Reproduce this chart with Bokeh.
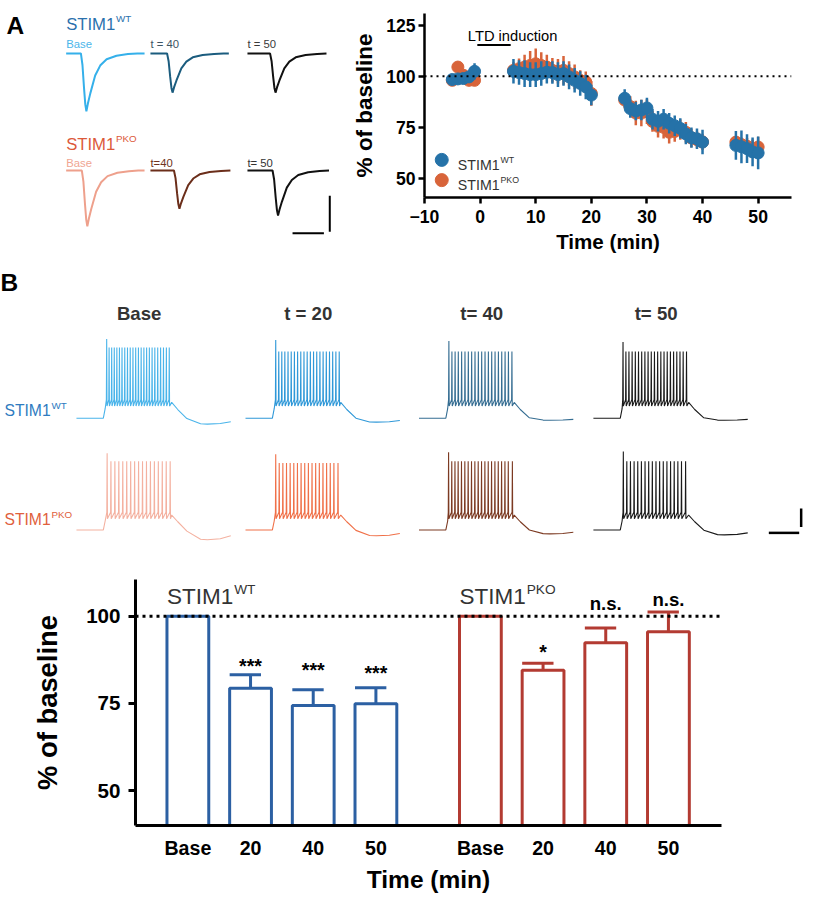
from bokeh.plotting import figure
from bokeh.layouts import column, row
from bokeh.models import Range1d, FixedTicker, Span
from bokeh.core.properties import value
from bokeh.embed import file_html
from bokeh.resources import INLINE

S = 0.98
FONT = "Liberation Sans"

# ---------------- DATA: LTD time course (panel A, right) ----------------
time_min = [-5, -4, -3, -2, -1,
            6, 7, 8, 9, 10, 11, 12, 13, 14, 15, 16, 17, 18, 19, 20,
            26, 27, 28, 29, 30, 31, 32, 33, 34, 35, 36, 37, 38, 39, 40,
            46, 47, 48, 49, 50]
wt_mean = [98.4, 98.7, 98.9, 99.7, 102.4,
           102.4, 101.8, 101.3, 100.8, 100.8, 101.3, 102.0, 101.8, 100.8, 101.3, 99.7, 98.0, 96.5, 94.8, 90.8,
           89.2, 84.2, 83.0, 83.5, 84.5, 79.0, 78.0, 79.0, 77.0, 75.8, 74.5, 71.8, 70.0, 69.4, 67.8,
           66.2, 65.5, 64.6, 63.0, 62.5]
wt_sem = [1.5, 1.5, 2.0, 2.5, 4.0,
          6.0, 6.0, 6.5, 6.0, 6.0, 6.0, 5.5, 5.5, 6.0, 6.0, 6.0, 6.0, 6.0, 6.0, 5.0,
          4.5, 4.5, 4.5, 5.0, 5.0, 5.0, 5.0, 5.0, 5.0, 5.0, 5.0, 5.0, 5.0, 5.0, 6.0,
          7.0, 8.0, 7.0, 7.0, 8.0]
pko_mean = [98.0, 104.5, 100.5, 98.0, 98.0,
            102.9, 103.7, 104.5, 105.3, 106.1, 105.3, 104.5, 102.9, 102.4, 102.9, 101.3, 99.7, 98.0, 97.3, 91.6,
            88.4, 85.2, 82.0, 82.0, 82.7, 77.9, 75.5, 75.0, 72.6, 73.0, 73.9, 72.6, 69.8, 69.0, 67.9,
            67.8, 66.6, 65.8, 64.6, 65.4]
pko_sem = [1.0, 1.5, 2.0, 1.5, 2.0,
           4.0, 5.0, 6.0, 7.0, 7.5, 6.5, 6.0, 6.0, 6.0, 7.0, 6.0, 6.0, 5.0, 5.0, 6.0,
           4.0, 5.0, 6.0, 6.5, 6.0, 5.0, 5.5, 5.5, 5.5, 5.0, 5.0, 5.0, 4.5, 4.0, 4.0,
           3.0, 3.5, 4.0, 4.5, 5.0]
ltd_induction = [-0.5, 5.5]

# ---------------- DATA: bar chart (panel B, bottom) ----------------
bar_labels = ["Base", "20", "40", "50"]
wt_bar = [100, 79.3, 74.4, 74.9]
wt_bar_sem = [0, 3.9, 4.5, 4.6]
pko_bar = [100, 84.5, 92.4, 95.5]
pko_bar_sem = [0, 2.0, 4.2, 5.7]
wt_sig = ["", "***", "***", "***"]
pko_sig = ["", "*", "n.s.", "n.s."]

# ---------------- DATA: example EPSCs (panel A, left) ----------------
epsc_t = [0, 1, 2, 2.8, 3.5, 4.5, 6.0, 9.1, 12.3, 16.4, 22.7, 30, 36]      # ms after onset
epsc_shape = [0, -0.2, -0.6, -0.88, -1.0, -0.86, -0.69, -0.38, -0.21, -0.10, -0.04, -0.012, 0]
wt_epsc_names = ["Base", "t = 40", "t = 50"]
pko_epsc_names = ["Base", "t=40", "t= 50"]
wt_epsc_amp = [161, 109, 109]       # pA
pko_epsc_amp = [155, 106, 125]
wt_epsc_onset = [9.4, 10.6, 14.4]   # ms
pko_epsc_onset = [10.0, 15.0, 16.0]
epsc_window = 50                     # ms
epsc_scale = (20, 100)               # ms, pA

# ---------------- DATA: example firing (panel B, top) ----------------
ap_names = ["Base", "t = 20", "t= 40", "t= 50"]
ap_rest = -70.0
ap_step = (177, 627)
ap_end = 1016
wt_spikes = [
    [22, 38, 55, 72, 89, 106, 123, 141, 159, 177, 195, 213, 231, 249, 267, 285, 303, 321, 339, 358, 377, 396, 415, 434],
    [22, 42, 62, 82, 103, 124, 145, 166, 187, 208, 229, 250, 271, 292, 313, 334, 355, 376, 397, 418, 440],
    [20, 40, 61, 82, 104, 126, 148, 170, 192, 214, 236, 258, 280, 302, 324, 346, 368, 390, 412, 435],
    [18, 37, 57, 78, 99, 120, 141, 162, 183, 204, 225, 246, 267, 288, 309, 330, 351, 372, 393, 414, 436],
]
pko_spikes = [
    [25, 50, 76, 102, 128, 154, 180, 206, 232, 258, 284, 310, 336, 362, 388, 414, 440],
    [22, 45, 69, 93, 117, 141, 165, 189, 213, 237, 261, 285, 309, 333, 357, 381, 405, 432],
    [18, 39, 60, 81, 103, 125, 147, 169, 191, 213, 235, 257, 279, 301, 323, 345, 367, 389, 411, 438],
    [20, 43, 67, 91, 115, 139, 163, 187, 211, 235, 259, 283, 307, 331, 355, 379, 403, 430],
]
wt_first_peak = [15.0, 14.0, 13.0, 12.0]
wt_peak = [6.0, 1.6, 1.6, 1.6]
wt_plateau = [-53.0, -53.0, -53.0, -53.0]
wt_ahp = [-76.3, -74.2, -72.1, -72.1]
pko_first_peak = [12.4, 11.4, 13.5, 14.2]
pko_peak = [3.7, 1.9, 3.7, 3.7]
pko_plateau = [-54.0, -54.0, -54.0, -54.0]
pko_ahp = [-80.5, -76.3, -74.2, -75.3]
post_t = [0, 40, 100, 190, 235, 320, 389]
post_w_plateau = [1, 0.55, 0.05, 0, 0, 0, 0]
post_w_min = [0, 0, 0.2, 0.95, 1.0, 0.9, 0.6]
ap_scale = (200, 20)  # ms, mV

# ---------------- colours ----------------
BLUE = "#2572a8"
ORANGE = "#d8643a"
BAR_BLUE = "#2c60a3"
BAR_RED = "#b33b32"
WT_TXT = "#2b71ad"
PKO_TXT = "#dc5a3a"
wt_epsc_col = ["#35b0ea", "#1b5c7e", "#111111"]
pko_epsc_col = ["#eea08c", "#6b2e1a", "#111111"]
wt_epsc_txt = ["#4cb6ea", "#3d5363", "#3a3a3a"]
pko_epsc_txt = ["#f0a591", "#6e3320", "#333333"]
wt_ap_col = ["#4ab4ea", "#2f98d8", "#356d92", "#1a1a1a"]
pko_ap_col = ["#f4b1a0", "#f07048", "#7c3a22", "#1a1a1a"]

AW = {"S": .667, "T": .611, "I": .278, "M": .833, "1": .556}


def fpx(v):
    return value(f"{v * S:.1f}px")


def label(p, x, y, s, size, color="black", bold=False, align="left",
          baseline="alphabetic", xo=0.0, yo=0.0):
    p.text(x=[x], y=[y], text=[s], text_font=value(FONT), text_font_size=fpx(size),
           text_font_style="bold" if bold else "normal", text_color=color,
           text_align=align, text_baseline=baseline, x_offset=xo * S, y_offset=yo * S)


def stim_label(p, x, y, sup, size, sup_size, color, yo=0.0):
    label(p, x, y, "STIM1", size, color, yo=yo)
    w = sum(AW[c] for c in "STIM1") * size
    label(p, x, y, sup, sup_size, color, xo=w + 0.8,
          yo=yo - (0.716 * size - 0.716 * sup_size) - 0.8)


def pixel_fig(w, h, x0, y0):
    p = figure(width=w, height=h, x_range=Range1d(x0, x0 + w / S),
               y_range=Range1d(y0 + h / S, y0), output_backend="svg",
               toolbar_location=None, min_border=0,
               x_axis_location=None, y_axis_location=None)
    p.grid.visible = False
    p.outline_line_color = None
    return p


# ================= Panel A: EPSC traces =================
pa = pixel_fig(338, 257, 0, 0)
EPSC_PX_MS = 1.6
EPSC_PX_PA = 0.367
a_col_x = [67, 153, 252]
a_row_y = [54, 173.5]
label(pa, 6, 25, "A", 25, bold=True)
stim_label(pa, 67, 24, "WT", 17, 10, WT_TXT)
stim_label(pa, 67, 147, "PKO", 17, 10, PKO_TXT)
rows = [(wt_epsc_names, wt_epsc_amp, wt_epsc_onset, wt_epsc_col, wt_epsc_txt, 44.3),
        (pko_epsc_names, pko_epsc_amp, pko_epsc_onset, pko_epsc_col, pko_epsc_txt, 166)]
for r, (names, amps, onsets, cols, tcols, ty) in enumerate(rows):
    for c in range(3):
        t = [0, onsets[c]] + [onsets[c] + tt for tt in epsc_t]
        i_pa = [0, 0] + [f * amps[c] for f in epsc_shape]
        t.append(max(epsc_window, t[-1]))
        i_pa.append(0)
        xs = [a_col_x[c] + tt * EPSC_PX_MS for tt in t]
        ys = [a_row_y[r] - ii * EPSC_PX_PA for ii in i_pa]
        pa.line(xs, ys, line_color=cols[c], line_width=2.0)
        label(pa, a_col_x[c], ty, names[c], 11.5, tcols[c])
sx0, sy0 = 298, 237.5
pa.line([sx0, sx0 + epsc_scale[0] * EPSC_PX_MS], [sy0, sy0], line_color="black", line_width=2)
pa.line([336, 336], [236, 236 - epsc_scale[1] * EPSC_PX_PA], line_color="black", line_width=2)

# ================= Panel A: LTD time course =================
ps = figure(width=465, height=257, x_range=Range1d(-10, 56), y_range=Range1d(40.7, 130.7),
            output_backend="svg", toolbar_location=None,
            min_border_left=86, min_border_right=12, min_border_top=13, min_border_bottom=60)
ps.grid.visible = False
ps.outline_line_color = None
ps.background_fill_color = "white"
ps.add_layout(Span(location=100, dimension="width", line_color="black",
                   line_width=2, line_dash="2 4"))
for mean, sem, col in [(pko_mean, pko_sem, ORANGE), (wt_mean, wt_sem, BLUE)]:
    lo = [m - e for m, e in zip(mean, sem)]
    hi = [m + e for m, e in zip(mean, sem)]
    ps.segment(x0=time_min, x1=time_min, y0=lo, y1=hi, line_color=col, line_width=2.5)
    ps.scatter(time_min, mean, size=12, fill_color=col, line_color=col)
ps.line(ltd_induction, [115.3, 115.3], line_color="black", line_width=2)
label(ps, -2.2, 119.6, "LTD induction", 15)
# legend
ps.scatter([-6.9], [59.1], size=13, fill_color=BLUE, line_color=BLUE)
ps.scatter([-6.9], [49.2], size=13, fill_color=ORANGE, line_color=ORANGE)
stim_label(ps, -4.0, 59.1, "WT", 14.5, 9, "#333333", yo=5)
stim_label(ps, -4.0, 49.2, "PKO", 14.5, 9, "#333333", yo=5)

ps.xaxis.ticker = FixedTicker(ticks=[-10, 0, 10, 20, 30, 40, 50])
ps.yaxis.ticker = FixedTicker(ticks=[50, 75, 100, 125])
ps.xaxis.axis_label = "Time (min)"
ps.yaxis.axis_label = "% of baseline"
for ax in (ps.xaxis[0], ps.yaxis[0]):
    ax.axis_line_width = 2.5
    ax.axis_line_color = "black"
    ax.major_tick_line_width = 2.5
    ax.major_tick_line_color = "black"
    ax.major_tick_out = 6
    ax.major_tick_in = 0
    ax.minor_tick_line_color = None
    ax.major_label_text_font = FONT
    ax.major_label_text_font_style = "bold"
    ax.major_label_text_font_size = f"{18 * S:.1f}px"
    ax.major_label_text_color = "black"
    ax.axis_label_text_font = FONT
    ax.axis_label_text_font_style = "bold"
    ax.axis_label_text_color = "black"
ps.xaxis.major_label_standoff = 6
ps.yaxis.major_label_standoff = 3
ps.xaxis.axis_label_text_font_size = f"{21 * S:.1f}px"
ps.yaxis.axis_label_text_font_size = f"{23 * S:.1f}px"
ps.xaxis.axis_label_standoff = 4
ps.yaxis.axis_label_standoff = 6

# ================= Panel B: firing traces =================
pt = pixel_fig(804, 304, 0, 262)
AP_PX_MS = 0.155
AP_PX_MV = 0.95
b_col_x = [77.5, 250, 427, 605]
b_row_y = [426, 540]
label(pt, 0, 287, "B", 25, bold=True)
for c in range(4):
    label(pt, b_col_x[c] + 64, 319, ap_names[c], 19, "#333333", bold=True, align="center")
stim_label(pt, 4, 418, "WT", 16, 10, "#2e7bbf")
stim_label(pt, 4, 529, "PKO", 16, 10, "#e0603c")


def ap_trace(spikes, first_peak, peak, plateau, vmin):
    on, off = ap_step
    t = [0, on, on + 12]
    v = [ap_rest, ap_rest, ap_rest + 0.6 * (plateau - ap_rest)]
    for k, s in enumerate(spikes):
        ts = on + s
        pk = first_peak if k == 0 else peak
        t += [ts - 2, ts, ts + 2]
        v += [plateau + 3, pk, plateau - 4]
    for tt, wp, wm in zip(post_t, post_w_plateau, post_w_min):
        t.append(off + tt)
        v.append(ap_rest + wp * (plateau - ap_rest) + wm * (vmin - ap_rest))
    return t, v


groups_ap = [(wt_spikes, wt_first_peak, wt_peak, wt_plateau, wt_ahp, wt_ap_col),
             (pko_spikes, pko_first_peak, pko_peak, pko_plateau, pko_ahp, pko_ap_col)]
for r, (spk, fp, pk, pl, mn, cols) in enumerate(groups_ap):
    for c in range(4):
        t, v = ap_trace(spk[c], fp[c], pk[c], pl[c], mn[c])
        xs = [b_col_x[c] + tt * AP_PX_MS for tt in t]
        ys = [b_row_y[r] - (vv - ap_rest) * AP_PX_MV for vv in v]
        pt.line(xs, ys, line_color=cols[c], line_width=1.1)
pt.line([784, 784 + ap_scale[0] * AP_PX_MS], [543, 543], line_color="black", line_width=2.5)
pt.line([817, 817], [537, 537 - ap_scale[1] * AP_PX_MV], line_color="black", line_width=2.5)

# ================= Panel B: bar chart =================
pb = figure(width=804, height=334, x_range=Range1d(0.494, 28.54), y_range=Range1d(40, 110.5),
            output_backend="svg", toolbar_location=None,
            min_border_left=135, min_border_right=83, min_border_top=18, min_border_bottom=66)
pb.grid.visible = False
pb.outline_line_color = None
BAR_W = 2.0
wt_pos = [3 + 3 * i for i in range(4)]
pko_pos = [17 + 3 * i for i in range(4)]
wt_sig_y = [None, 85.6, 84.6, 83.7]
pko_sig_y = [None, 89.8, 103.7, 104.9]
for pos, vals, sems, sig, sig_y, col, sup in [
        (wt_pos, wt_bar, wt_bar_sem, wt_sig, wt_sig_y, BAR_BLUE, "WT"),
        (pko_pos, pko_bar, pko_bar_sem, pko_sig, pko_sig_y, BAR_RED, "PKO")]:
    pb.vbar(x=pos, top=vals, bottom=0, width=BAR_W, fill_color="white",
            line_color=col, line_width=3)
    ex = [x for x, e in zip(pos, sems) if e > 0]
    ey0 = [v for v, e in zip(vals, sems) if e > 0]
    ey1 = [v + e for v, e in zip(vals, sems) if e > 0]
    pb.segment(x0=ex, x1=ex, y0=ey0, y1=ey1, line_color=col, line_width=3)
    pb.segment(x0=[x - 1.0 for x in ex], x1=[x + 0.5 for x in ex], y0=ey1, y1=ey1,
               line_color=col, line_width=3)
    for x, s, sy in zip(pos, sig, sig_y):
        if s:
            label(pb, x, sy, s, 20 if "*" in s else 19, "black", bold=True, align="center")
    stim_label(pb, pos[0] - BAR_W / 2, 105.5, sup, 23, 14, "#333333")
pb.add_layout(Span(location=100, dimension="width", line_color="black",
                   line_width=3, line_dash="3 4"))

pb.xaxis.ticker = FixedTicker(ticks=wt_pos + pko_pos)
pb.xaxis.major_label_overrides = {p: l for p, l in zip(wt_pos + pko_pos, bar_labels + bar_labels)}
pb.yaxis.ticker = FixedTicker(ticks=[50, 75, 100])
pb.xaxis.axis_label = "Time (min)"
pb.yaxis.axis_label = "% of baseline"
for ax in (pb.xaxis[0], pb.yaxis[0]):
    ax.axis_line_width = 3
    ax.axis_line_color = "black"
    ax.minor_tick_line_color = None
    ax.major_label_text_font = FONT
    ax.major_label_text_font_style = "bold"
    ax.major_label_text_color = "black"
    ax.axis_label_text_font = FONT
    ax.axis_label_text_font_style = "bold"
    ax.axis_label_text_color = "black"
pb.xaxis.major_tick_line_color = None
pb.xaxis.major_tick_out = 0
pb.xaxis.major_tick_in = 0
pb.xaxis.major_label_standoff = 11
pb.xaxis.major_label_text_font_size = f"{20 * S:.1f}px"
pb.xaxis.axis_label_text_font_size = f"{25 * S:.1f}px"
pb.xaxis.axis_label_standoff = 4
pb.yaxis.major_tick_line_width = 3
pb.yaxis.major_tick_line_color = "black"
pb.yaxis.major_tick_out = 7
pb.yaxis.major_tick_in = 0
pb.yaxis.major_label_standoff = 8
pb.yaxis.major_label_text_font_size = f"{21 * S:.1f}px"
pb.yaxis.axis_label_text_font_size = f"{28 * S:.1f}px"
pb.yaxis.axis_label_standoff = 20

# wrap each figure in its own box so Bokeh does not align their frames
layout = column(row(column(pa), column(ps)), row(pt), row(pb))
open("out.html", "w").write(file_html(layout, INLINE, title="STIM1 LTD"))
